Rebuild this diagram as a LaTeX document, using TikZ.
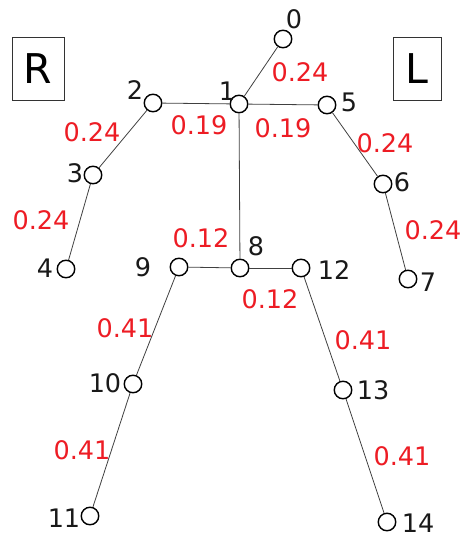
\documentclass[tikz,border=0pt]{standalone}
\usepackage{fontspec}
\setmainfont{DejaVu Sans}
\begin{document}
\begin{tikzpicture}[x=1pt,y=-1pt,
  joint/.style={circle,draw=black,line width=1.4pt,minimum size=17.5pt,inner sep=0pt,fill=white},
  bone/.style={draw=black!75,line width=0.8pt},
  wlab/.style={font=\fontsize{25.5}{25.5}\selectfont,inner sep=0pt},
  nlab/.style={text=black!90,font=\fontsize{25.5}{25.5}\selectfont,inner sep=0pt},
  sidebox/.style={draw=black!80,line width=0.9pt,minimum height=63pt,font=\fontsize{41}{41}\selectfont,inner sep=0pt}]
\useasboundingbox (0,0) rectangle (460,537);
\definecolor{wred}{RGB}{237,28,36}
\tikzset{wlab/.append style={text=wred}}
% side boxes
\node[sidebox,minimum width=52pt] (R) at (38,68.5) {R};
\node[sidebox,minimum width=48pt] (L) at (417,68.5) {L};
% joints
\node[joint] (j0) at (283,39) {};
\node[joint] (j1) at (239,104) {};
\node[joint] (j2) at (153,103) {};
\node[joint] (j3) at (93,175) {};
\node[joint] (j4) at (66,269) {};
\node[joint] (j5) at (327,105) {};
\node[joint] (j6) at (383,184) {};
\node[joint] (j7) at (408,279) {};
\node[joint] (j8) at (240,268) {};
\node[joint] (j9) at (179,267) {};
\node[joint] (j12) at (301,268) {};
\node[joint] (j10) at (133,384) {};
\node[joint] (j11) at (90,516) {};
\node[joint] (j13) at (343,390) {};
\node[joint] (j14) at (387,522) {};
% bones
\draw[bone] (j0) -- (j1);
\draw[bone] (j1) -- (j2);
\draw[bone] (j2) -- (j3);
\draw[bone] (j3) -- (j4);
\draw[bone] (j1) -- (j5);
\draw[bone] (j5) -- (j6);
\draw[bone] (j6) -- (j7);
\draw[bone] (j1) -- (j8);
\draw[bone] (j8) -- (j9);
\draw[bone] (j8) -- (j12);
\draw[bone] (j9) -- (j10);
\draw[bone] (j10) -- (j11);
\draw[bone] (j12) -- (j13);
\draw[bone] (j13) -- (j14);
% joint numbers
\node[nlab] (n0) at (294,19) {0};
\node[nlab] (n1) at (227,91) {1};
\node[nlab] (n2) at (135,90) {2};
\node[nlab] (n3) at (75,173) {3};
\node[nlab] (n4) at (45,268) {4};
\node[nlab] (n5) at (349,102) {5};
\node[nlab] (n6) at (402,182) {6};
\node[nlab] (n7) at (428,282) {7};
\node[nlab] (n8) at (256,246) {8};
\node[nlab] (n9) at (143,267) {9};
\node[nlab] (n12) at (334,270) {12};
\node[nlab] (n10) at (105,383) {10};
\node[nlab] (n11) at (64,518) {11};
\node[nlab] (n13) at (373,390) {13};
\node[nlab] (n14) at (418,523) {14};
% bone lengths
\node[wlab] (w01) at (300,72) {0.24};
\node[wlab] (w15) at (283,128) {0.19};
\node[wlab] (w56) at (385,143) {0.24};
\node[wlab] (w67) at (433,230) {0.24};
\node[wlab] (w12) at (199,125) {0.19};
\node[wlab] (w23) at (92,132) {0.24};
\node[wlab] (w34) at (41,220) {0.24};
\node[wlab] (w89) at (201,238) {0.12};
\node[wlab] (w812) at (270,299) {0.12};
\node[wlab] (w910) at (125,328) {0.41};
\node[wlab] (w1011) at (82,450) {0.41};
\node[wlab] (w1213) at (363,340) {0.41};
\node[wlab] (w1314) at (402,456) {0.41};
\end{tikzpicture}
\end{document}
